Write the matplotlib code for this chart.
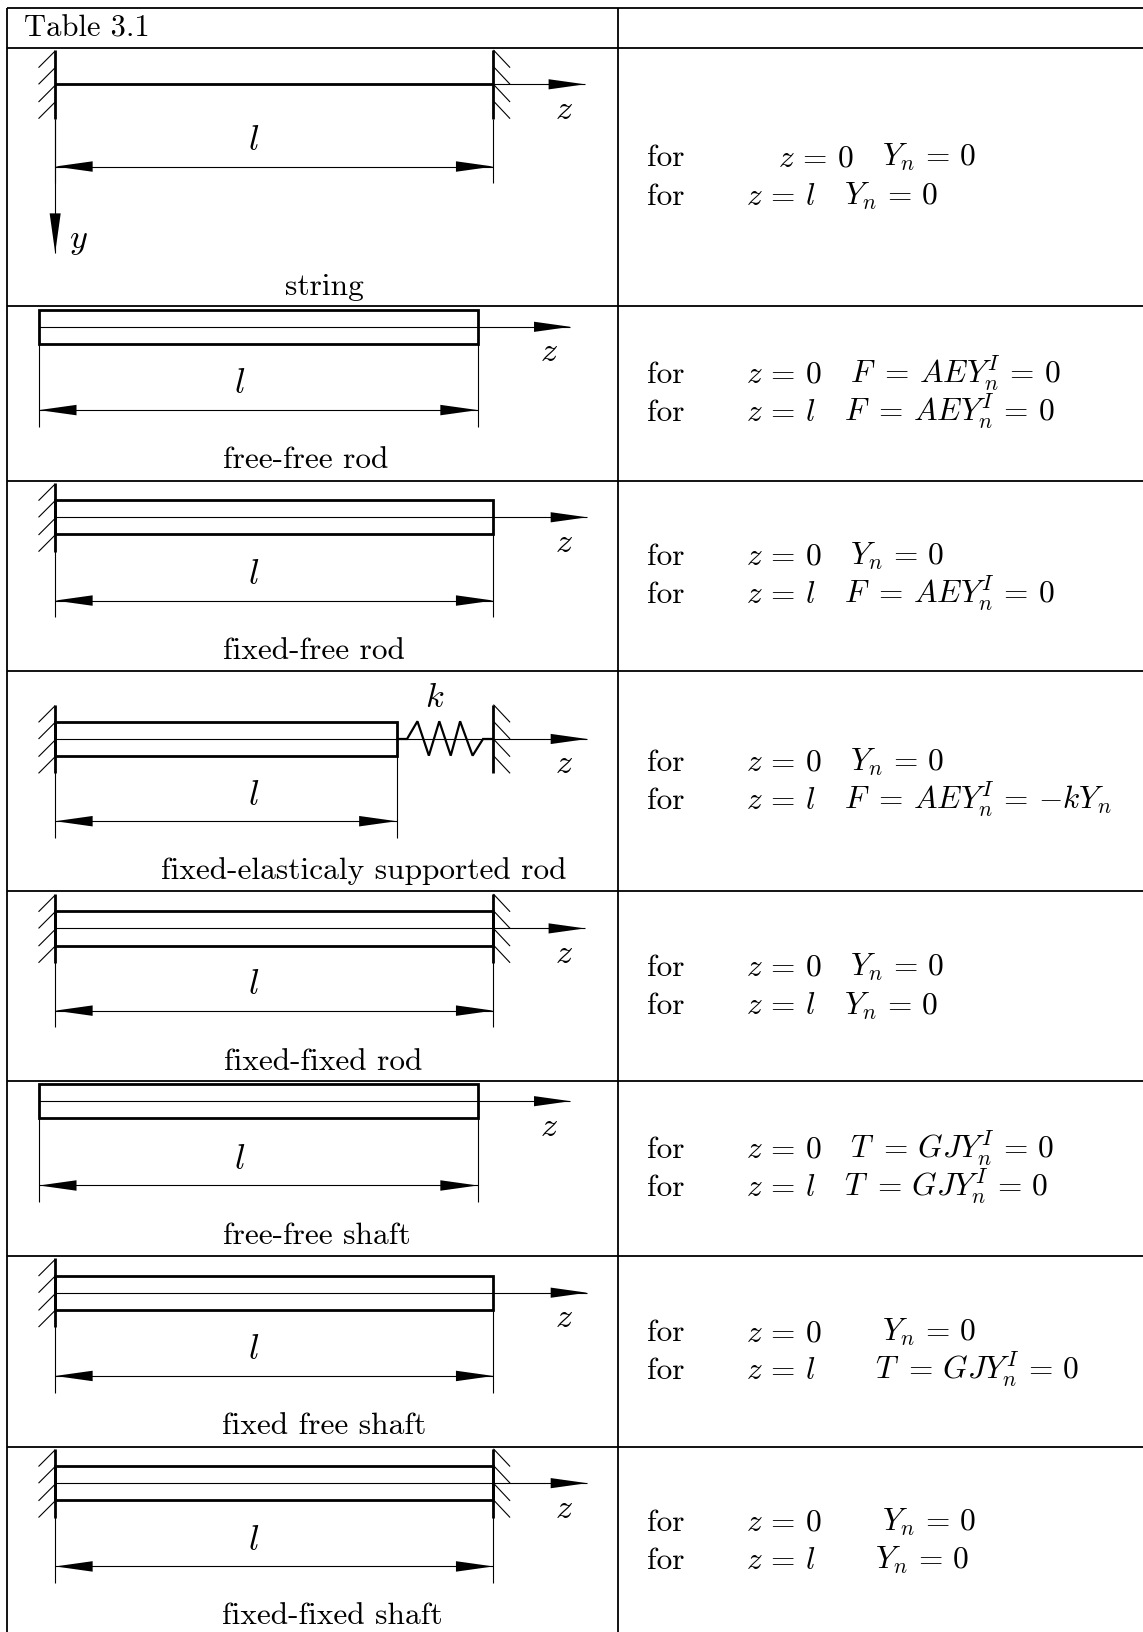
import matplotlib
matplotlib.use('Agg')
import matplotlib.pyplot as plt
from matplotlib.patches import Polygon

plt.rcParams['font.family'] = ['cmr10', 'DejaVu Sans']
plt.rcParams['mathtext.fontset'] = 'cm'
plt.rcParams['axes.unicode_minus'] = False

# table grid
rowLines = [8, 46, 294, 462, 645, 856, 1039, 1207, 1390]
leftX = 6.5
midX = 594

# one entry per row of the table
captions = ['string', 'free-free rod', 'fixed-free rod', 'fixed-elasticaly supported rod',
            'fixed-fixed rod', 'free-free shaft', 'fixed free shaft', 'fixed-fixed shaft']
captionX = [312, 294, 302, 349, 310, 304, 311, 319]
captionY = [283, 450, 633, 845, 1028, 1195, 1378, 1560]
centerY = [81, 314, 497, 710, 892, 1058, 1242, 1425]
beamX0 = [53, 37.5, 53, 53, 53, 37.5, 53, 53]
beamX1 = [474, 459, 474, 381, 474, 459, 474, 474]
leftWall = [True, False, True, True, True, False, True, True]
rightWall = [True, False, False, True, True, False, False, True]
axisEnd = [562, 548, 564, 564, 562, 548, 564, 564]
dimY = [160, 394, 577, 789, 971, 1139, 1322, 1505]
lX = [244, 230, 244, 244, 244, 230, 244, 244]
zX = [542, 527, 542, 542, 542, 527, 542, 542]

# boundary conditions, right column
forY1 = [159.5, 367.5, 542.5, 740.5, 937.5, 1112.5, 1288.5, 1470.5]
forY2 = [196.5, 404.5, 579.5, 777.5, 974.5, 1149.5, 1324.5, 1507.5]
zX1 = [747, 717, 717, 717, 717, 717, 717, 717]
eq1 = [r'$Y_n\,=\,0$', r'$F\,\,=\,AEY_n^I\,=\,0$', r'$Y_n\,=\,0$', r'$Y_n\,=\,0$', r'$Y_n\,=\,0$',
       r'$T\,\,=\,GJY_n^I\,=\,0$', r'$Y_n\,=\,0$', r'$Y_n\,=\,0$']
eq1X = [847, 817, 817, 817, 817, 817, 847, 847]
eq2 = [r'$Y_n\,=\,0$', r'$F\,\,=\,AEY_n^I\,=\,0$', r'$F\,\,=\,AEY_n^I\,=\,0$', r'$F\,\,=\,AEY_n^I\,=\,{-}kY_n$',
       r'$Y_n\,=\,0$', r'$T\,\,=\,GJY_n^I\,=\,0$', r'$T\,\,=\,GJY_n^I\,=\,0$', r'$Y_n\,=\,0$']
eq2X = [811, 811, 811, 811, 811, 811, 841, 841]

# spring of row 4
springX = [381, 391, 401, 412, 422, 433, 442, 454, 464, 474]
springY = [710, 710, 693, 726, 693, 726, 693, 726, 710, 710]

fig = plt.figure(figsize=(11.43, 16.32), dpi=100)
ax = fig.add_axes([0, 0, 1, 1])
ax.set_xlim(0, 1098)
ax.set_ylim(1568, 0)
ax.axis('off')

FS = 22.6
THIN = 0.8
THICK = 2.0


def line(xs, ys, lw=THIN):
    ax.plot(xs, ys, color='black', lw=lw, solid_capstyle='butt', solid_joinstyle='miter')


def arrow(tipX, tipY, dx, dy):
    # filled arrow head pointing at the tip, (dx, dy) goes back to its base
    px, py = -dy * 0.14, dx * 0.14
    ax.add_patch(Polygon([(tipX, tipY), (tipX + dx + px, tipY + dy + py), (tipX + dx - px, tipY + dy - py)],
                         closed=True, color='black', lw=0))


def wall(x, yc, side):
    line([x, x], [yc - 33, yc + 33], THICK)
    for off in [-33, -17, 0, 16]:
        if side < 0:
            line([x, x - 16], [yc + off + 1, yc + off + 17])
        else:
            line([x, x + 16], [yc + off, yc + off + 17])


# grid
for y in rowLines:
    line([leftX, 1098], [y, y], 1.3)
line([leftX, leftX], [rowLines[0], 1568], 1.3)
line([midX, midX], [rowLines[0], 1568], 1.3)
ax.text(23, 35, 'Table 3.1', fontsize=22, ha='left', va='baseline')

for i in range(len(captions)):
    yc = centerY[i]
    x0 = beamX0[i]
    x1 = beamX1[i]
    if i == 0:
        line([x0, x1], [yc, yc], THICK)
    else:
        ax.add_patch(plt.Rectangle((x0, yc - 16.5), x1 - x0, 33, fill=False, ec='black', lw=THICK))
    if leftWall[i]:
        wall(53, yc, -1)
    if rightWall[i]:
        wall(474, yc, 1)
    # z axis
    line([x0, axisEnd[i]], [yc, yc])
    arrow(axisEnd[i], yc, -35, 0)
    ax.text(zX[i], yc + 33, '$z$', fontsize=FS + 2, ha='center', va='baseline')
    # dimension l
    d = dimY[i]
    bottom = yc + (33 if i == 0 else 16.5)
    line([x0, x1], [d, d])
    line([x0, x0], [bottom, d + 16])
    line([x1, x1], [bottom, d + 16])
    arrow(x0, d, 36, 0)
    arrow(x1, d, -36, 0)
    ax.text(lX[i], d - 16, '$l$', fontsize=FS + 3, ha='center', va='baseline')
    ax.text(captionX[i], captionY[i], captions[i], fontsize=FS, ha='center', va='baseline')
    # right column
    ax.text(622, forY1[i], 'for', fontsize=FS, ha='left', va='baseline')
    ax.text(622, forY2[i], 'for', fontsize=FS, ha='left', va='baseline')
    ax.text(zX1[i], forY1[i], r'$z\,=\,0$', fontsize=FS, ha='left', va='baseline')
    ax.text(717, forY2[i], r'$z\,=\,l$', fontsize=FS, ha='left', va='baseline')
    ax.text(eq1X[i], forY1[i], eq1[i], fontsize=FS, ha='left', va='baseline')
    ax.text(eq2X[i], forY2[i], eq2[i], fontsize=FS, ha='left', va='baseline')

# y axis of row 1
line([53, 53], [114, 243])
arrow(53, 243, 0, -38)
ax.text(75, 238, '$y$', fontsize=FS + 2, ha='center', va='baseline')

# spring of row 4
line(springX, springY, 1.6)
ax.text(418, 679, '$k$', fontsize=FS + 2, ha='center', va='baseline')

fig.savefig('out.png', dpi=100)
